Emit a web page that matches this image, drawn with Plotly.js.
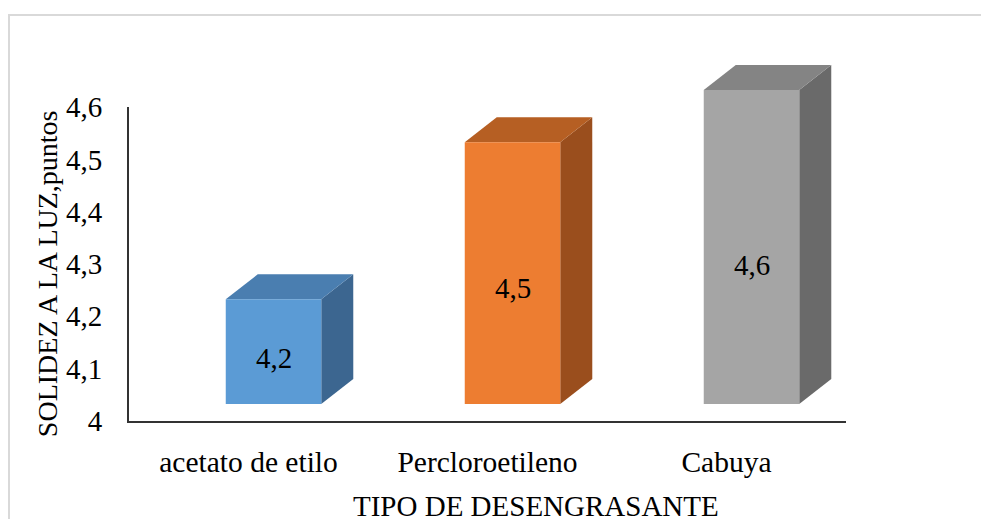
<!DOCTYPE html>
<html>
<head>
<meta charset="utf-8">
<script src="https://cdn.plot.ly/plotly-3.0.1.min.js"></script>
<style>
  html, body { margin: 0; padding: 0; background: #ffffff; }
  #wrap { position: relative; width: 981px; height: 519px; overflow: hidden; }
  #frame { position: absolute; left: 8px; top: 14px; width: 1200px; height: 800px;
           border-left: 2px solid #d9d9d9; border-top: 2px solid #d9d9d9; }
  #chart { position: absolute; left: 0; top: 0; width: 981px; height: 519px; }
</style>
</head>
<body>
<div id="wrap">
  <div id="frame"></div>
  <div id="chart"></div>
</div>
<script>
// ---- data ----
const categories = ["acetato de etilo", "Percloroetileno", "Cabuya"];
const values = [4.2, 4.5, 4.6];
const valueLabels = ["4,2", "4,5", "4,6"];
const tickValues = [4, 4.1, 4.2, 4.3, 4.4, 4.5, 4.6];
const tickLabels = ["4", "4,1", "4,2", "4,3", "4,4", "4,5", "4,6"];
const frontColors = ["#5b9bd5", "#ed7d31", "#a5a5a5"];
const topColors = ["#4a7eb0", "#b65f23", "#848484"];
const sideColors = ["#3c6690", "#9a4e1d", "#6a6a6a"];

// ---- style constants (geometry of the pseudo-3D boxes) ----
const baseVal = 4;          // floor of the columns
const shift = 0.1046;       // column centre offset from category centre (x units)
const halfW = 0.1998;       // half width of the front face (x units)
const depthX = 0.134;       // depth offset in x units
const depthY = 0.0478;      // depth offset in y2 units
const serif = "Liberation Serif";

const traces = [];
const annotations = [];
// empty trace so the tick axis subplot (x / y) is drawn
traces.push({type: "scatter", mode: "none", x: [], y: [], xaxis: "x", yaxis: "y",
             hoverinfo: "skip", showlegend: false});
values.forEach((v, i) => {
  const L = i + shift - halfW, R = i + shift + halfW;
  // side face
  traces.push({
    type: "scatter", mode: "lines", xaxis: "x", yaxis: "y2",
    x: [R, R + depthX, R + depthX, R, R],
    y: [baseVal, baseVal + depthY, v + depthY, v, baseVal],
    fill: "toself", fillcolor: sideColors[i], line: {width: 0, color: sideColors[i]},
    hoverinfo: "skip", showlegend: false
  });
  // top face
  traces.push({
    type: "scatter", mode: "lines", xaxis: "x", yaxis: "y2",
    x: [L, R, R + depthX, L + depthX, L],
    y: [v, v, v + depthY, v + depthY, v],
    fill: "toself", fillcolor: topColors[i], line: {width: 0, color: topColors[i]},
    hoverinfo: "skip", showlegend: false
  });
  // front face
  traces.push({
    type: "scatter", mode: "lines", xaxis: "x", yaxis: "y2",
    x: [L, R, R, L, L],
    y: [baseVal, baseVal, v, v, baseVal],
    fill: "toself", fillcolor: frontColors[i], line: {width: 0, color: frontColors[i]},
    name: categories[i], hoverinfo: "name", showlegend: false
  });
  annotations.push({
    xref: "x", yref: "y2", x: i + shift, y: baseVal + 0.443 * (v - baseVal),
    text: valueLabels[i], showarrow: false,
    font: {family: serif, size: 29, color: "#000000"}
  });
});

// axis titles
annotations.push({
  xref: "paper", yref: "paper", x: -0.1144, y: 0.388,
  xanchor: "center", yanchor: "middle",
  text: "SOLIDEZ A LA LUZ,puntos", textangle: -90, showarrow: false,
  font: {family: serif, size: 28, color: "#000000"}
});
annotations.push({
  xref: "paper", yref: "paper", x: 0.568, y: -0.222,
  xanchor: "center", yanchor: "middle",
  text: "TIPO DE DESENGRASANTE", showarrow: false,
  font: {family: serif, size: 29, color: "#000000"}
});

const layout = {
  width: 981, height: 519,
  margin: {l: 129, r: 135, t: 40, b: 98},
  paper_bgcolor: "rgba(0,0,0,0)", plot_bgcolor: "rgba(0,0,0,0)",
  showlegend: false,
  xaxis: {
    range: [-0.5, 2.5], tickvals: [0, 1, 2], ticktext: categories,
    showgrid: false, zeroline: false, showline: true, linecolor: "#333333", linewidth: 2,
    ticks: "", ticklabelstandoff: 14,
    tickfont: {family: serif, size: 29.5, color: "#000000"},
    anchor: "y", fixedrange: true
  },
  yaxis: {
    domain: [0, 0.8241], range: [4, 4.6],
    tickvals: tickValues, ticktext: tickLabels,
    showgrid: false, zeroline: false, showline: true, linecolor: "#333333", linewidth: 2,
    ticks: "", ticklabelstandoff: 19,
    tickfont: {family: serif, size: 29, color: "#000000"},
    anchor: "x", fixedrange: true
  },
  yaxis2: {
    domain: [0, 1], range: [3.9675, 4.6956], anchor: "x",
    visible: false, showgrid: false, zeroline: false, fixedrange: true
  },
  annotations: annotations
};

Plotly.newPlot("chart", traces, layout, {displayModeBar: false, staticPlot: true});
</script>
</body>
</html>
